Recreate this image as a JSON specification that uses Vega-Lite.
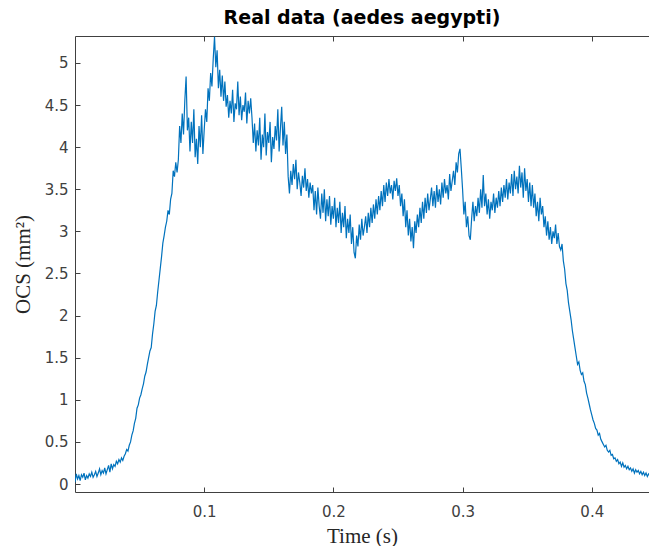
{
  "$schema": "https://vega.github.io/schema/vega-lite/v6.json",
  "autosize": "none",
  "width": 574,
  "height": 456,
  "padding": {"left": 75, "top": 36, "right": 0, "bottom": 54},
  "background": "white",
  "title": {"text": "Real data (aedes aegypti)", "font": "DejaVu Sans", "fontSize": 19, "fontWeight": "bold", "color": "#000000", "anchor": "middle", "baseline": "alphabetic", "offset": -7},
  "data": {"values": [
{"t":0.000,"v":0.02},{"t":0.001,"v":0.12},{"t":0.002,"v":0.06},{"t":0.003,"v":0.10},{"t":0.004,"v":0.04},{"t":0.005,"v":0.11},{"t":0.006,"v":0.08},{"t":0.007,"v":0.13},{"t":0.008,"v":0.05},{"t":0.009,"v":0.10},
{"t":0.010,"v":0.07},{"t":0.011,"v":0.12},{"t":0.012,"v":0.09},{"t":0.013,"v":0.14},{"t":0.014,"v":0.08},{"t":0.015,"v":0.11},{"t":0.016,"v":0.15},{"t":0.017,"v":0.09},{"t":0.018,"v":0.13},{"t":0.019,"v":0.18},
{"t":0.020,"v":0.11},{"t":0.021,"v":0.16},{"t":0.022,"v":0.13},{"t":0.023,"v":0.19},{"t":0.024,"v":0.12},{"t":0.025,"v":0.17},{"t":0.026,"v":0.22},{"t":0.027,"v":0.14},{"t":0.028,"v":0.24},{"t":0.029,"v":0.18},
{"t":0.030,"v":0.23},{"t":0.031,"v":0.21},{"t":0.032,"v":0.27},{"t":0.033,"v":0.24},{"t":0.034,"v":0.29},{"t":0.035,"v":0.26},{"t":0.036,"v":0.31},{"t":0.037,"v":0.28},{"t":0.038,"v":0.33},{"t":0.039,"v":0.36},
{"t":0.040,"v":0.41},{"t":0.041,"v":0.39},{"t":0.042,"v":0.46},{"t":0.043,"v":0.50},{"t":0.044,"v":0.58},{"t":0.045,"v":0.63},{"t":0.046,"v":0.72},{"t":0.047,"v":0.78},{"t":0.048,"v":0.90},{"t":0.049,"v":0.94},
{"t":0.050,"v":1.02},{"t":0.051,"v":1.06},{"t":0.052,"v":1.13},{"t":0.053,"v":1.19},{"t":0.054,"v":1.28},{"t":0.055,"v":1.33},{"t":0.056,"v":1.42},{"t":0.057,"v":1.50},{"t":0.058,"v":1.58},{"t":0.059,"v":1.62},
{"t":0.060,"v":1.78},{"t":0.061,"v":1.90},{"t":0.062,"v":2.05},{"t":0.063,"v":2.12},{"t":0.064,"v":2.28},{"t":0.065,"v":2.42},{"t":0.066,"v":2.56},{"t":0.067,"v":2.70},{"t":0.068,"v":2.86},{"t":0.069,"v":2.95},
{"t":0.070,"v":3.05},{"t":0.071,"v":3.12},{"t":0.072,"v":3.25},{"t":0.073,"v":3.20},{"t":0.074,"v":3.38},{"t":0.075,"v":3.45},{"t":0.076,"v":3.72},{"t":0.077,"v":3.65},{"t":0.078,"v":3.82},{"t":0.079,"v":3.70},
{"t":0.080,"v":3.85},{"t":0.081,"v":4.25},{"t":0.082,"v":4.05},{"t":0.083,"v":4.40},{"t":0.084,"v":4.15},{"t":0.085,"v":4.55},{"t":0.086,"v":4.84},{"t":0.087,"v":4.20},{"t":0.088,"v":4.35},{"t":0.089,"v":3.95},
{"t":0.090,"v":4.30},{"t":0.091,"v":4.05},{"t":0.092,"v":4.45},{"t":0.093,"v":3.88},{"t":0.094,"v":4.10},{"t":0.095,"v":3.80},{"t":0.096,"v":4.25},{"t":0.097,"v":4.00},{"t":0.098,"v":4.38},{"t":0.099,"v":3.92},
{"t":0.100,"v":4.20},{"t":0.101,"v":4.45},{"t":0.102,"v":4.30},{"t":0.103,"v":4.70},{"t":0.104,"v":4.55},{"t":0.105,"v":4.88},{"t":0.106,"v":4.72},{"t":0.107,"v":5.05},{"t":0.108,"v":5.31},{"t":0.109,"v":4.95},
{"t":0.110,"v":5.15},{"t":0.111,"v":4.70},{"t":0.112,"v":4.92},{"t":0.113,"v":4.60},{"t":0.114,"v":4.85},{"t":0.115,"v":4.55},{"t":0.116,"v":4.78},{"t":0.117,"v":4.48},{"t":0.118,"v":4.62},{"t":0.119,"v":4.35},
{"t":0.120,"v":4.55},{"t":0.121,"v":4.40},{"t":0.122,"v":4.68},{"t":0.123,"v":4.30},{"t":0.124,"v":4.52},{"t":0.125,"v":4.45},{"t":0.126,"v":4.78},{"t":0.127,"v":4.38},{"t":0.128,"v":4.60},{"t":0.129,"v":4.32},
{"t":0.130,"v":4.50},{"t":0.131,"v":4.42},{"t":0.132,"v":4.65},{"t":0.133,"v":4.28},{"t":0.134,"v":4.55},{"t":0.135,"v":4.40},{"t":0.136,"v":4.58},{"t":0.137,"v":4.35},{"t":0.138,"v":4.05},{"t":0.139,"v":4.28},
{"t":0.140,"v":3.95},{"t":0.141,"v":4.20},{"t":0.142,"v":4.02},{"t":0.143,"v":4.35},{"t":0.144,"v":3.85},{"t":0.145,"v":4.15},{"t":0.146,"v":4.00},{"t":0.147,"v":4.40},{"t":0.148,"v":3.90},{"t":0.149,"v":4.18},
{"t":0.150,"v":4.05},{"t":0.151,"v":4.30},{"t":0.152,"v":3.82},{"t":0.153,"v":4.12},{"t":0.154,"v":3.98},{"t":0.155,"v":4.25},{"t":0.156,"v":4.08},{"t":0.157,"v":4.45},{"t":0.158,"v":3.95},{"t":0.159,"v":4.22},
{"t":0.160,"v":4.48},{"t":0.161,"v":4.02},{"t":0.162,"v":4.30},{"t":0.163,"v":3.92},{"t":0.164,"v":4.15},{"t":0.165,"v":3.65},{"t":0.166,"v":3.45},{"t":0.167,"v":3.72},{"t":0.168,"v":3.55},{"t":0.169,"v":3.80},
{"t":0.170,"v":3.62},{"t":0.171,"v":3.85},{"t":0.172,"v":3.50},{"t":0.173,"v":3.70},{"t":0.174,"v":3.58},{"t":0.175,"v":3.42},{"t":0.176,"v":3.66},{"t":0.177,"v":3.52},{"t":0.178,"v":3.75},{"t":0.179,"v":3.48},
{"t":0.180,"v":3.62},{"t":0.181,"v":3.40},{"t":0.182,"v":3.58},{"t":0.183,"v":3.45},{"t":0.184,"v":3.55},{"t":0.185,"v":3.25},{"t":0.186,"v":3.48},{"t":0.187,"v":3.20},{"t":0.188,"v":3.52},{"t":0.189,"v":3.30},
{"t":0.190,"v":3.15},{"t":0.191,"v":3.45},{"t":0.192,"v":3.22},{"t":0.193,"v":3.50},{"t":0.194,"v":3.12},{"t":0.195,"v":3.38},{"t":0.196,"v":3.18},{"t":0.197,"v":3.42},{"t":0.198,"v":3.08},{"t":0.199,"v":3.30},
{"t":0.200,"v":3.15},{"t":0.201,"v":3.40},{"t":0.202,"v":3.05},{"t":0.203,"v":3.28},{"t":0.204,"v":3.10},{"t":0.205,"v":3.35},{"t":0.206,"v":2.98},{"t":0.207,"v":3.22},{"t":0.208,"v":3.05},{"t":0.209,"v":3.30},
{"t":0.210,"v":2.92},{"t":0.211,"v":3.15},{"t":0.212,"v":2.98},{"t":0.213,"v":3.20},{"t":0.214,"v":2.85},{"t":0.215,"v":3.05},{"t":0.216,"v":2.75},{"t":0.217,"v":2.68},{"t":0.218,"v":2.95},{"t":0.219,"v":2.82},
{"t":0.220,"v":3.08},{"t":0.221,"v":2.90},{"t":0.222,"v":3.15},{"t":0.223,"v":2.95},{"t":0.224,"v":3.05},{"t":0.225,"v":3.18},{"t":0.226,"v":2.98},{"t":0.227,"v":3.22},{"t":0.228,"v":3.05},{"t":0.229,"v":3.28},
{"t":0.230,"v":3.10},{"t":0.231,"v":3.32},{"t":0.232,"v":3.15},{"t":0.233,"v":3.38},{"t":0.234,"v":3.20},{"t":0.235,"v":3.42},{"t":0.236,"v":3.25},{"t":0.237,"v":3.48},{"t":0.238,"v":3.30},{"t":0.239,"v":3.55},
{"t":0.240,"v":3.35},{"t":0.241,"v":3.58},{"t":0.242,"v":3.42},{"t":0.243,"v":3.62},{"t":0.244,"v":3.45},{"t":0.245,"v":3.55},{"t":0.246,"v":3.38},{"t":0.247,"v":3.60},{"t":0.248,"v":3.48},{"t":0.249,"v":3.63},
{"t":0.250,"v":3.42},{"t":0.251,"v":3.55},{"t":0.252,"v":3.30},{"t":0.253,"v":3.45},{"t":0.254,"v":3.18},{"t":0.255,"v":3.38},{"t":0.256,"v":3.05},{"t":0.257,"v":3.25},{"t":0.258,"v":2.95},{"t":0.259,"v":3.15},
{"t":0.260,"v":2.88},{"t":0.261,"v":3.05},{"t":0.262,"v":2.80},{"t":0.263,"v":3.12},{"t":0.264,"v":2.98},{"t":0.265,"v":3.20},{"t":0.266,"v":3.05},{"t":0.267,"v":3.28},{"t":0.268,"v":3.10},{"t":0.269,"v":3.35},
{"t":0.270,"v":3.15},{"t":0.271,"v":3.40},{"t":0.272,"v":3.22},{"t":0.273,"v":3.45},{"t":0.274,"v":3.25},{"t":0.275,"v":3.38},{"t":0.276,"v":3.52},{"t":0.277,"v":3.30},{"t":0.278,"v":3.48},{"t":0.279,"v":3.28},
{"t":0.280,"v":3.55},{"t":0.281,"v":3.35},{"t":0.282,"v":3.50},{"t":0.283,"v":3.32},{"t":0.284,"v":3.58},{"t":0.285,"v":3.40},{"t":0.286,"v":3.62},{"t":0.287,"v":3.45},{"t":0.288,"v":3.55},{"t":0.289,"v":3.38},
{"t":0.290,"v":3.68},{"t":0.291,"v":3.48},{"t":0.292,"v":3.60},{"t":0.293,"v":3.72},{"t":0.294,"v":3.55},{"t":0.295,"v":3.82},{"t":0.296,"v":3.70},{"t":0.297,"v":3.92},{"t":0.298,"v":3.98},{"t":0.299,"v":3.75},
{"t":0.300,"v":3.50},{"t":0.301,"v":3.20},{"t":0.302,"v":3.35},{"t":0.303,"v":3.05},{"t":0.304,"v":3.18},{"t":0.305,"v":2.95},{"t":0.306,"v":2.90},{"t":0.307,"v":3.15},{"t":0.308,"v":3.35},{"t":0.309,"v":3.12},
{"t":0.310,"v":3.30},{"t":0.311,"v":3.18},{"t":0.312,"v":3.40},{"t":0.313,"v":3.22},{"t":0.314,"v":3.50},{"t":0.315,"v":3.28},{"t":0.316,"v":3.67},{"t":0.317,"v":3.30},{"t":0.318,"v":3.45},{"t":0.319,"v":3.20},
{"t":0.320,"v":3.38},{"t":0.321,"v":3.15},{"t":0.322,"v":3.35},{"t":0.323,"v":3.25},{"t":0.324,"v":3.45},{"t":0.325,"v":3.22},{"t":0.326,"v":3.40},{"t":0.327,"v":3.28},{"t":0.328,"v":3.48},{"t":0.329,"v":3.30},
{"t":0.330,"v":3.52},{"t":0.331,"v":3.35},{"t":0.332,"v":3.55},{"t":0.333,"v":3.40},{"t":0.334,"v":3.62},{"t":0.335,"v":3.38},{"t":0.336,"v":3.58},{"t":0.337,"v":3.45},{"t":0.338,"v":3.68},{"t":0.339,"v":3.42},
{"t":0.340,"v":3.72},{"t":0.341,"v":3.50},{"t":0.342,"v":3.65},{"t":0.343,"v":3.45},{"t":0.344,"v":3.78},{"t":0.345,"v":3.52},{"t":0.346,"v":3.70},{"t":0.347,"v":3.40},{"t":0.348,"v":3.75},{"t":0.349,"v":3.48},
{"t":0.350,"v":3.62},{"t":0.351,"v":3.35},{"t":0.352,"v":3.58},{"t":0.353,"v":3.30},{"t":0.354,"v":3.55},{"t":0.355,"v":3.28},{"t":0.356,"v":3.45},{"t":0.357,"v":3.18},{"t":0.358,"v":3.35},{"t":0.359,"v":3.12},
{"t":0.360,"v":3.40},{"t":0.361,"v":3.20},{"t":0.362,"v":3.30},{"t":0.363,"v":3.05},{"t":0.364,"v":3.18},{"t":0.365,"v":2.95},{"t":0.366,"v":3.12},{"t":0.367,"v":2.90},{"t":0.368,"v":3.05},{"t":0.369,"v":2.85},
{"t":0.370,"v":3.00},{"t":0.371,"v":2.92},{"t":0.372,"v":3.08},{"t":0.373,"v":2.85},{"t":0.374,"v":2.98},{"t":0.375,"v":2.82},{"t":0.376,"v":2.78},{"t":0.377,"v":2.85},{"t":0.378,"v":2.65},{"t":0.379,"v":2.55},
{"t":0.380,"v":2.38},{"t":0.381,"v":2.30},{"t":0.382,"v":2.15},{"t":0.383,"v":2.05},{"t":0.384,"v":1.95},{"t":0.385,"v":1.82},{"t":0.386,"v":1.72},{"t":0.387,"v":1.62},{"t":0.388,"v":1.52},{"t":0.389,"v":1.42},
{"t":0.390,"v":1.45},{"t":0.391,"v":1.35},{"t":0.392,"v":1.30},{"t":0.393,"v":1.32},{"t":0.394,"v":1.22},{"t":0.395,"v":1.18},{"t":0.396,"v":1.08},{"t":0.397,"v":1.02},{"t":0.398,"v":0.95},{"t":0.399,"v":0.88},
{"t":0.400,"v":0.82},{"t":0.401,"v":0.76},{"t":0.402,"v":0.72},{"t":0.403,"v":0.66},{"t":0.404,"v":0.64},{"t":0.405,"v":0.58},{"t":0.406,"v":0.60},{"t":0.407,"v":0.53},{"t":0.408,"v":0.50},{"t":0.409,"v":0.47},
{"t":0.410,"v":0.44},{"t":0.411,"v":0.46},{"t":0.412,"v":0.40},{"t":0.413,"v":0.38},{"t":0.414,"v":0.40},{"t":0.415,"v":0.34},{"t":0.416,"v":0.35},{"t":0.417,"v":0.30},{"t":0.418,"v":0.31},{"t":0.419,"v":0.27},
{"t":0.420,"v":0.29},{"t":0.421,"v":0.24},{"t":0.422,"v":0.26},{"t":0.423,"v":0.21},{"t":0.424,"v":0.25},{"t":0.425,"v":0.20},{"t":0.426,"v":0.22},{"t":0.427,"v":0.18},{"t":0.428,"v":0.21},{"t":0.429,"v":0.17},
{"t":0.430,"v":0.19},{"t":0.431,"v":0.15},{"t":0.432,"v":0.18},{"t":0.433,"v":0.13},{"t":0.434,"v":0.17},{"t":0.435,"v":0.14},{"t":0.436,"v":0.16},{"t":0.437,"v":0.12},{"t":0.438,"v":0.15},{"t":0.439,"v":0.11},
{"t":0.440,"v":0.14},{"t":0.441,"v":0.10},{"t":0.442,"v":0.13},{"t":0.443,"v":0.09},{"t":0.444,"v":0.12},{"t":0.445,"v":0.10},{"t":0.446,"v":0.13},{"t":0.447,"v":0.11}
  ]},
  "encoding": {
    "y": {"field": "v", "type": "quantitative", "scale": {"domain": [-0.095, 5.32], "nice": false, "zero": false},
      "axis": {"values": [0, 0.5, 1, 1.5, 2, 2.5, 3, 3.5, 4, 4.5, 5], "format": "~g", "title": "OCS (mm²)", "titleFont": "Liberation Serif", "titleFontSize": 21, "titleFontWeight": "normal", "titleColor": "#262626", "titlePadding": 11, "labelPadding": 12}}
  },
  "layer": [
    {
      "mark": {"type": "line", "color": "#0072BD", "strokeWidth": 1.2, "clip": true},
      "encoding": {
        "x": {"field": "t", "type": "quantitative", "scale": {"domain": [0, 0.4443], "nice": false, "zero": false},
          "axis": {"orient": "bottom", "values": [0.1, 0.2, 0.3, 0.4], "format": "~g", "title": "Time (s)", "titleFont": "Liberation Serif", "titleFontSize": 21, "titleFontWeight": "normal", "titleColor": "#262626", "titlePadding": 6, "labelPadding": 17}}
      }
    },
    {
      "mark": {"type": "line", "strokeOpacity": 0, "clip": true},
      "encoding": {
        "x": {"field": "t", "type": "quantitative", "axis": {"orient": "top", "values": [0.1, 0.2, 0.3, 0.4], "labels": false, "title": null, "labelPadding": 14}}
      }
    }
  ],
  "resolve": {"axis": {"x": "independent"}},
  "config": {
    "view": {"stroke": null},
    "axis": {
      "grid": false,
      "domainColor": "#404040",
      "domainWidth": 1,
      "tickColor": "#404040",
      "tickSize": -5,
      "tickWidth": 1,
      "labelFont": "DejaVu Sans",
      "labelFontSize": 15,
      "labelColor": "#404040",
      "labelFlush": false,
      "labelOverlap": false
    }
  }
}
